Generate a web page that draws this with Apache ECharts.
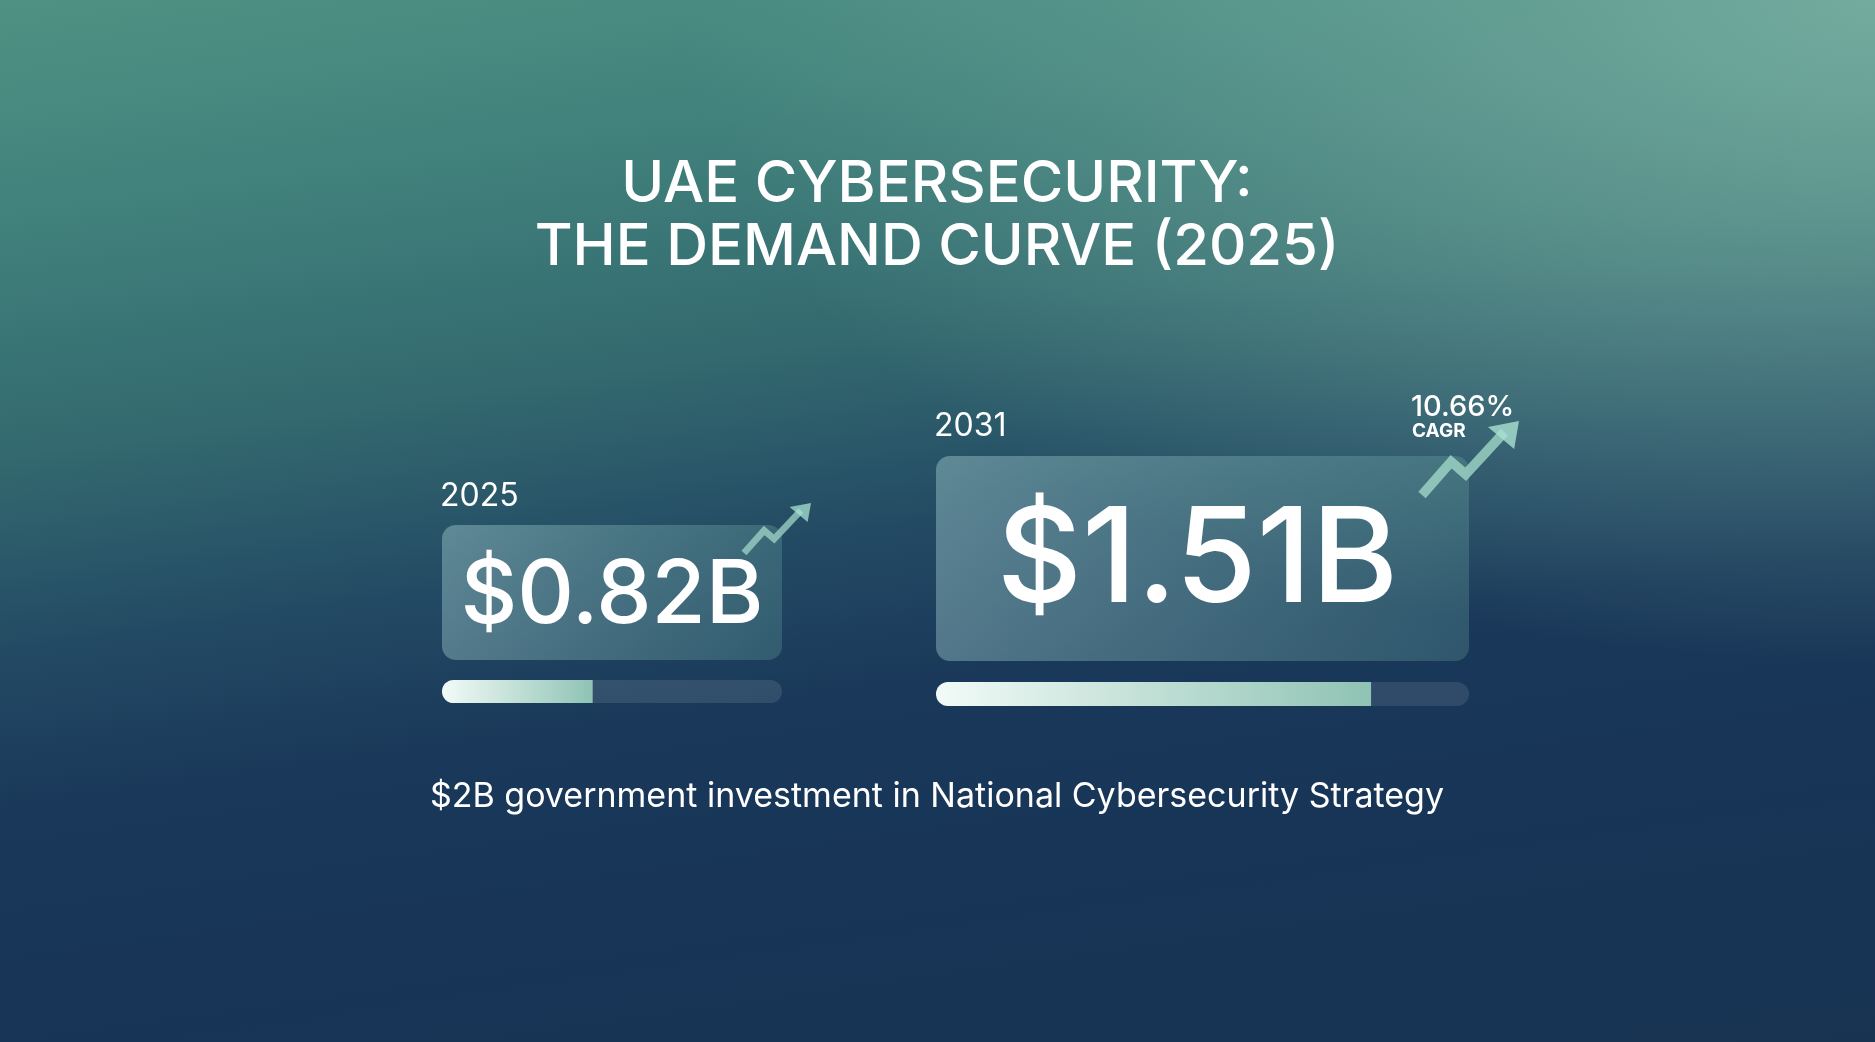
<!DOCTYPE html>
<html style="height: 100%;">
<head>
<meta charset="utf-8">
<title>UAE Cybersecurity</title>
<script src="https://cdn.jsdelivr.net/npm/echarts@6/dist/echarts.min.js"></script>
</head>
<body style="height: 100%; margin: 0; background: radial-gradient(ellipse at 100% 0%, #73ab9e 0%, rgba(115,171,158,0) 45%), linear-gradient(172deg, #4f9283 0%, #42847d 15%, #33696f 35%, #234a64 50%, #1a395a 62%, #173456 80%, #183352 100%);">
<div id="container" style="width: 1875px; height: 1042px;"></div>
<script type="text/javascript">
var years = ['2025', '2031'];
var values = [0.82, 1.51];
var valueLabels = ['$0.82B', '$1.51B'];
var scaleMax = 1.85;
var cagr = '10.66%';

var chart = echarts.init(document.getElementById('container'));
var font = 'Inter, "Noto Sans", sans-serif';

// card and bar boxes [x, y, w, h]
var cards = [[442, 525, 340, 135], [936, 456, 533, 205]];
var bars = [[442, 680, 340, 23], [936, 682, 533, 24]];
var valueSizes = [88, 132];

var grids = [], xAxes = [], yAxes = [], series = [], graphic = [];
bars.forEach(function (b, i) {
  grids.push({ left: b[0], top: b[1], width: b[2], height: b[3] });
  xAxes.push({ type: 'value', min: 0, max: scaleMax, gridIndex: i, show: false });
  yAxes.push({ type: 'category', data: [years[i]], gridIndex: i, show: false });
  series.push({
    type: 'bar', xAxisIndex: i, yAxisIndex: i, data: [values[i]],
    barWidth: b[3], showBackground: true,
    backgroundStyle: { color: 'rgba(255,255,255,0.1)', borderRadius: b[3] / 2 },
    itemStyle: {
      borderRadius: [b[3] / 2, 0, 0, b[3] / 2],
      color: new echarts.graphic.LinearGradient(0, 0, 1, 0, [
        { offset: 0, color: '#f2fbf7' }, { offset: 1, color: '#8fc3b4' }])
    },
    silent: true
  });
});

cards.forEach(function (c, i) {
  graphic.push({
    type: 'rect', shape: { x: c[0], y: c[1], width: c[2], height: c[3], r: 14 },
    style: { fill: new echarts.graphic.LinearGradient(0, 0, 1, 1, [
      { offset: 0, color: 'rgba(150,190,195,0.5)' }, { offset: 1, color: 'rgba(100,160,155,0.3)' }]) }
  });
  graphic.push({
    type: 'text', x: c[0] + c[2] / 2 - (i ? 5 : 0), y: c[1] + c[3] / 2 + 4,
    style: { text: valueLabels[i], fill: '#fff', font: '500 ' + valueSizes[i] + 'px ' + font,
      textAlign: 'center', textVerticalAlign: 'middle' }
  });
  graphic.push({
    type: 'text', x: c[0] - 2, y: c[1] - (i ? 30 : 29),
    style: { text: years[i], fill: '#fff', font: '400 32px ' + font, textVerticalAlign: 'middle' }
  });
});

// arrows
function arrow(x, y, w, h, alpha) {
  var pts = [[x, y + h], [x + w * 0.3, y + h * 0.55], [x + w * 0.45, y + h * 0.72], [x + w * 0.85, y + h * 0.15]];
  graphic.push({ type: 'polyline', shape: { points: pts },
    style: { stroke: 'rgba(160,215,200,' + alpha + ')', lineWidth: w * 0.1, fill: null } });
  graphic.push({ type: 'polygon', shape: { points: [[x + w, y], [x + w * 0.68, y + h * 0.08], [x + w * 0.95, y + h * 0.38]] },
    style: { fill: 'rgba(170,225,210,' + alpha + ')' } });
}
arrow(744, 503, 67, 50, 0.75);
arrow(1422, 421, 97, 74, 0.8);

graphic.push({ type: 'text', x: 1411, y: 407, style: { text: cagr, fill: '#fff', font: '500 29px ' + font, textVerticalAlign: 'middle' } });
graphic.push({ type: 'text', x: 1412, y: 431, style: { text: 'CAGR', fill: '#fff', font: '700 19px ' + font, textVerticalAlign: 'middle' } });

graphic.push({ type: 'text', x: 937, y: 185, style: { text: 'UAE CYBERSECURITY:', fill: '#fff', font: '500 58px ' + font, textAlign: 'center', textVerticalAlign: 'middle' } });
graphic.push({ type: 'text', x: 937, y: 248, style: { text: 'THE DEMAND CURVE (2025)', fill: '#fff', font: '500 58px ' + font, textAlign: 'center', textVerticalAlign: 'middle' } });
graphic.push({ type: 'text', x: 937, y: 797, style: { text: '$2B government investment in National Cybersecurity Strategy', fill: '#fff', font: '400 34px ' + font, textAlign: 'center', textVerticalAlign: 'middle' } });

chart.setOption({
  animation: false,
  grid: grids, xAxis: xAxes, yAxis: yAxes, series: series,
  graphic: { elements: graphic }
});
</script>
</body>
</html>
